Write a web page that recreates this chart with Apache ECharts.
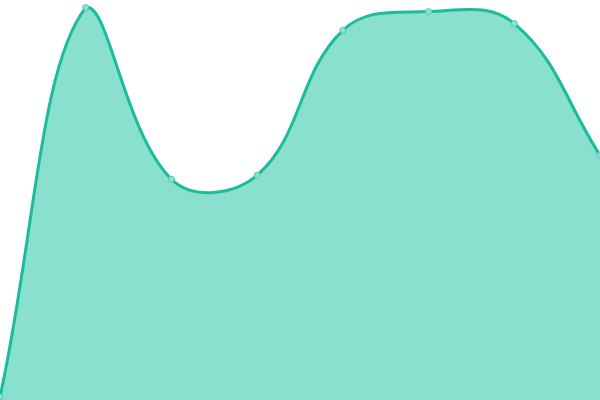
<!DOCTYPE html>
<html>
<head>
<meta charset="utf-8">
<script src="https://cdn.jsdelivr.net/npm/echarts@6/dist/echarts.min.js"></script>
<style>
  html, body { margin: 0; padding: 0; background: #fff; }
  #chart { width: 600px; height: 400px; }
</style>
</head>
<body>
<div id="chart"></div>
<script>
// categories and values
var categories = ['1', '2', '3', '4', '5', '6', '7', '8'];
var values = [0.8, 98.1, 55.2, 56.2, 92.4, 97.1, 94.1, 61.2];

var TENSION = 0.4;
var LINE_COLOR = '#1abc9c';
var AREA_COLOR = '#89e0cf';

// cardinal-style spline control points, capped to the plot area
function controlPoints(pts, area) {
  var out = [];
  for (var i = 0; i < pts.length; i++) {
    var cur = pts[i];
    var prev = pts[i - 1] || cur;
    var next = pts[i + 1] || cur;
    var d01 = Math.hypot(cur[0] - prev[0], cur[1] - prev[1]);
    var d12 = Math.hypot(next[0] - cur[0], next[1] - cur[1]);
    var s01 = d01 / (d01 + d12) || 0;
    var s12 = d12 / (d01 + d12) || 0;
    var fa = TENSION * s01, fb = TENSION * s12;
    var cp = {
      prev: [cur[0] - fa * (next[0] - prev[0]), cur[1] - fa * (next[1] - prev[1])],
      next: [cur[0] + fb * (next[0] - prev[0]), cur[1] + fb * (next[1] - prev[1])]
    };
    [cp.prev, cp.next].forEach(function (p) {
      p[0] = Math.min(Math.max(p[0], area.x), area.x + area.width);
      p[1] = Math.min(Math.max(p[1], area.y), area.y + area.height);
    });
    out.push(cp);
  }
  return out;
}

function renderCurve(params, api) {
  if (params.dataIndex !== 0) return;
  var area = params.coordSys;
  var pts = values.map(function (v, i) { return api.coord([i, v]); });
  var cps = controlPoints(pts, area);
  var d = 'M' + pts[0][0] + ' ' + pts[0][1];
  for (var i = 1; i < pts.length; i++) {
    var a = cps[i - 1].next, b = cps[i].prev;
    d += ' C' + a[0] + ' ' + a[1] + ' ' + b[0] + ' ' + b[1] + ' ' + pts[i][0] + ' ' + pts[i][1];
  }
  var base = api.coord([0, 0])[1];
  var last = pts[pts.length - 1];
  var areaPath = d + ' L' + last[0] + ' ' + base + ' L' + pts[0][0] + ' ' + base + ' Z';

  var children = [
    { type: 'path', shape: { pathData: areaPath }, style: { fill: AREA_COLOR, stroke: null } },
    { type: 'path', shape: { pathData: d }, style: { fill: null, stroke: LINE_COLOR, lineWidth: 3 } }
  ];
  pts.forEach(function (p) {
    children.push({
      type: 'circle',
      shape: { cx: p[0], cy: p[1], r: 3 },
      style: { fill: '#8de0d0', stroke: '#4ccdb2', lineWidth: 1 }
    });
  });
  return { type: 'group', children: children };
}

var chart = echarts.init(document.getElementById('chart'));
chart.setOption({
  animation: false,
  grid: { left: 0, right: 0, top: 0, bottom: 0 },
  xAxis: {
    type: 'category',
    data: categories,
    boundaryGap: false,
    show: false
  },
  yAxis: {
    type: 'value',
    min: 0,
    max: 100,
    show: false
  },
  series: [
    {
      type: 'custom',
      data: values,
      renderItem: renderCurve
    }
  ]
});
</script>
</body>
</html>
